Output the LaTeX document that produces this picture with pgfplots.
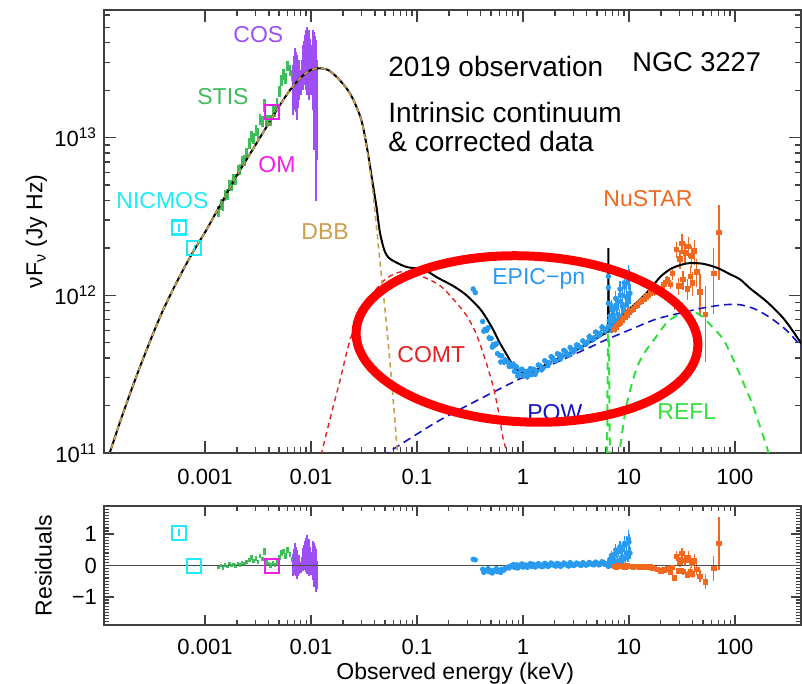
\documentclass[border=0pt]{standalone}
\usepackage{pgfplots}
\pgfplotsset{compat=1.18}
\usepackage{pgfplotstable}
\usepackage{fontspec}
\setmainfont{Liberation Sans}

\definecolor{stis}{RGB}{61,190,91}
\definecolor{cosc}{RGB}{157,78,245}
\definecolor{omc}{RGB}{240,30,230}
\definecolor{nicmos}{RGB}{30,235,245}
\definecolor{dbb}{RGB}{200,160,80}
\definecolor{epic}{RGB}{40,155,240}
\definecolor{nustar}{RGB}{240,105,30}
\definecolor{comt}{RGB}{225,35,35}
\definecolor{pow}{RGB}{20,20,200}
\definecolor{refl}{RGB}{50,225,60}
\definecolor{axisgray}{RGB}{64,64,64}

% E [keV], F = nu F_nu [Jy Hz], dF relative error, R residual, dR residual error
\pgfplotstableread{
E F dF R dR
1.349e-3 3.42e12 0.08 -0.05 0.06
1.413e-3 3.80e12 0.08 0.00 0.06
1.479e-3 3.70e12 0.08 -0.08 0.06
1.549e-3 4.34e12 0.08 0.02 0.06
1.622e-3 4.36e12 0.08 -0.03 0.06
1.698e-3 4.98e12 0.08 0.05 0.06
1.778e-3 5.01e12 0.08 0.00 0.06
1.862e-3 5.46e12 0.08 0.03 0.06
1.950e-3 5.48e12 0.08 -0.02 0.06
2.042e-3 6.19e12 0.08 0.05 0.06
2.138e-3 6.34e12 0.08 0.02 0.06
2.239e-3 7.05e12 0.08 0.08 0.06
2.344e-3 7.14e12 0.08 0.04 0.06
2.455e-3 7.94e12 0.08 0.10 0.06
2.630e-3 9.20e12 0.08 0.18 0.07
2.754e-3 1.026e13 0.08 0.25 0.07
2.884e-3 9.93e12 0.08 0.15 0.07
3.020e-3 1.107e13 0.08 0.22 0.07
3.162e-3 1.069e13 0.08 0.12 0.07
3.311e-3 1.306e13 0.08 0.30 0.07
3.467e-3 1.268e13 0.08 0.20 0.07
3.631e-3 1.611e13 0.10 0.45 0.10
3.802e-3 1.285e13 0.08 0.10 0.07
3.981e-3 1.291e13 0.08 0.05 0.07
4.169e-3 1.294e13 0.08 0.00 0.07
4.365e-3 1.469e13 0.08 0.08 0.07
4.571e-3 1.462e13 0.08 0.02 0.07
4.786e-3 1.656e13 0.08 0.10 0.07
5.012e-3 1.982e13 0.08 0.25 0.08
5.248e-3 2.323e13 0.08 0.40 0.09
5.495e-3 2.518e13 0.08 0.45 0.09
5.754e-3 2.366e13 0.08 0.30 0.09
6.026e-3 2.858e13 0.08 0.50 0.09
6.310e-3 2.692e13 0.08 0.35 0.09
6.607e-3 2.483e13 0.08 0.20 0.08
}\tabSTIS

\pgfplotstableread{
E F dF R dR
0.339 1.096e12 0.04 0.20 0.05
0.355 1.04e12 0.04 0.18 0.05
0.417 6.82e11 0.04 -0.12 0.04
0.427 5.92e11 0.04 -0.22 0.04
0.437 6.08e11 0.04 -0.18 0.04
0.457 6.01e11 0.04 -0.15 0.04
0.468 6.22e11 0.04 -0.10 0.04
0.479 5.37e11 0.04 -0.20 0.04
0.501 5.33e11 0.04 -0.16 0.04
0.513 4.69e11 0.04 -0.24 0.04
0.525 4.88e11 0.04 -0.19 0.04
0.550 4.86e11 0.04 -0.14 0.04
0.562 4.94e11 0.04 -0.10 0.04
0.575 4.27e11 0.04 -0.20 0.04
0.603 4.16e11 0.04 -0.17 0.04
0.617 3.78e11 0.04 -0.22 0.04
0.631 4.14e11 0.04 -0.12 0.04
0.661 3.77e11 0.04 -0.15 0.04
0.676 3.88e11 0.04 -0.10 0.04
0.692 3.84e11 0.04 -0.08 0.04
0.724 3.76e11 0.04 -0.05 0.04
0.741 3.54e11 0.04 -0.08 0.04
0.759 3.66e11 0.04 -0.02 0.04
0.794 3.55e11 0.04 0.00 0.04
0.813 3.66e11 0.04 0.03 0.04
0.832 3.29e11 0.04 -0.06 0.04
0.871 3.52e11 0.04 0.02 0.04
0.891 3.08e11 0.04 -0.08 0.04
0.912 3.18e11 0.04 -0.04 0.04
0.955 3.37e11 0.04 0.03 0.04
0.977 3.40e11 0.04 0.05 0.04
1.000 3.08e11 0.04 -0.05 0.04
1.047 3.30e11 0.04 0.02 0.04
1.072 3.17e11 0.04 -0.02 0.04
1.096 3.04e11 0.04 -0.06 0.04
1.148 3.33e11 0.04 0.03 0.04
1.175 3.43e11 0.04 0.06 0.04
1.202 3.14e11 0.04 -0.03 0.04
1.259 3.40e11 0.04 0.04 0.04
1.303 3.15e11 0.04 -0.05 0.04
1.349 3.30e11 0.04 -0.02 0.04
1.396 3.61e11 0.04 0.06 0.04
1.445 3.57e11 0.04 0.03 0.04
1.496 3.37e11 0.04 -0.04 0.04
1.549 3.45e11 0.04 -0.03 0.04
1.603 3.85e11 0.04 0.07 0.04
1.660 3.78e11 0.04 0.04 0.04
1.718 3.58e11 0.04 -0.03 0.04
1.778 3.73e11 0.04 0.00 0.04
1.841 4.08e11 0.04 0.08 0.04
1.905 4.02e11 0.04 0.05 0.04
1.972 3.87e11 0.04 0.00 0.04
2.042 3.84e11 0.04 -0.02 0.04
2.113 4.26e11 0.04 0.07 0.04
2.188 4.22e11 0.04 0.04 0.04
2.265 3.95e11 0.04 -0.03 0.04
2.344 4.12e11 0.04 0.01 0.04
2.427 4.48e11 0.04 0.08 0.04
2.512 4.40e11 0.04 0.05 0.04
2.600 4.26e11 0.04 0.01 0.04
2.692 4.16e11 0.04 -0.02 0.04
2.786 4.67e11 0.04 0.09 0.04
2.884 4.48e11 0.04 0.04 0.04
2.985 4.37e11 0.04 0.00 0.04
3.090 4.53e11 0.04 0.02 0.04
3.199 4.84e11 0.04 0.08 0.04
3.311 4.82e11 0.04 0.06 0.04
3.428 4.70e11 0.04 0.02 0.04
3.548 4.66e11 0.04 0.00 0.04
3.673 5.14e11 0.04 0.09 0.04
3.802 5.01e11 0.04 0.05 0.04
3.936 4.89e11 0.04 0.01 0.04
4.074 5.06e11 0.04 0.03 0.04
4.217 5.47e11 0.05 0.10 0.05
4.365 5.38e11 0.05 0.07 0.05
4.519 5.28e11 0.05 0.03 0.05
4.677 5.32e11 0.05 0.02 0.05
4.842 5.85e11 0.05 0.11 0.05
5.012 5.77e11 0.05 0.08 0.05
5.188 5.55e11 0.05 0.02 0.05
5.370 5.71e11 0.05 0.04 0.05
5.559 6.27e11 0.05 0.12 0.05
5.754 6.18e11 0.05 0.10 0.05
5.957 5.93e11 0.05 0.03 0.05
6.166 6.11e11 0.05 0.05 0.05
6.40 8.91e11 0.05 0.02 0.05
6.40 1.12e12 0.05 0.06 0.05
6.40 1.32e12 0.05 -0.03 0.05
6.457 6.40e11 0.08 0.05 0.08
6.531 6.92e11 0.08 0.12 0.09
6.607 7.40e11 0.08 0.20 0.10
6.761 6.31e11 0.08 0.00 0.08
6.839 8.51e11 0.10 0.32 0.13
6.918 8.07e11 0.10 0.25 0.12
7.079 6.78e11 0.10 0.10 0.11
7.161 7.24e11 0.10 0.20 0.12
7.244 8.17e11 0.10 0.35 0.13
7.413 6.41e11 0.10 0.05 0.11
7.499 9.55e11 0.12 0.50 0.18
7.586 8.63e11 0.12 0.40 0.16
7.762 6.97e11 0.12 0.12 0.13
7.852 7.59e11 0.12 0.15 0.14
7.943 9.14e11 0.12 0.45 0.17
8.128 7.36e11 0.12 0.15 0.14
8.222 1.096e12 0.12 0.60 0.19
8.318 1.005e12 0.12 0.55 0.18
8.511 7.23e11 0.12 0.10 0.13
8.610 8.51e11 0.12 0.28 0.15
8.710 1.00e12 0.12 0.50 0.18
8.913 8.11e11 0.12 0.20 0.14
9.016 1.20e12 0.14 0.70 0.24
9.120 1.13e12 0.14 0.65 0.22
9.333 8.69e11 0.14 0.25 0.17
9.441 9.77e11 0.14 0.40 0.20
9.550 1.20e12 0.14 0.70 0.23
9.772 9.29e11 0.14 0.30 0.18
9.886 1.35e12 0.15 0.85 0.28
10.00 1.27e12 0.15 0.75 0.25
10.23 1.03e12 0.15 0.40 0.20
}\tabEPIC

\pgfplotstableread{
E F dF R dR
7.244 6.10e11 0.02 -0.02 0.02
7.586 6.31e11 0.02 -0.04 0.02
7.943 6.53e11 0.02 -0.01 0.02
8.318 6.76e11 0.02 -0.03 0.02
8.710 7.00e11 0.02 -0.02 0.02
9.120 7.24e11 0.02 -0.04 0.02
9.550 7.50e11 0.02 -0.01 0.02
10.00 7.85e11 0.02 -0.03 0.02
10.47 8.04e11 0.025 -0.02 0.025
10.96 8.22e11 0.025 -0.05 0.025
11.48 8.51e11 0.025 -0.03 0.025
12.02 8.71e11 0.025 -0.02 0.025
12.59 9.02e11 0.03 -0.04 0.03
13.18 9.23e11 0.03 -0.03 0.03
13.80 9.44e11 0.03 -0.05 0.03
14.45 9.77e11 0.03 -0.04 0.03
15.14 1.00e12 0.03 -0.06 0.03
15.85 1.035e12 0.03 -0.05 0.03
16.60 1.047e12 0.04 -0.08 0.04
17.38 1.047e12 0.05 -0.09 0.05
18.62 1.06e12 0.05 -0.12 0.05
19.95 1.096e12 0.05 -0.17 0.05
21.38 1.175e12 0.06 -0.14 0.06
22.91 1.259e12 0.06 -0.11 0.06
24.55 1.175e12 0.07 -0.20 0.06
25.70 1.38e12 0.10 -0.07 0.09
26.92 8.91e11 0.10 -0.40 0.06
28.18 1.95e12 0.12 0.29 0.16
29.51 1.15e12 0.12 -0.17 0.10
30.20 1.70e12 0.14 0.12 0.16
31.62 2.14e12 0.14 0.38 0.19
32.36 1.26e12 0.14 -0.19 0.11
33.88 1.86e12 0.15 0.17 0.18
35.48 1.10e12 0.15 -0.30 0.11
36.31 2.04e12 0.15 0.26 0.19
38.02 1.32e12 0.16 -0.18 0.13
38.90 1.78e12 0.16 0.08 0.17
39.81 1.20e12 0.18 -0.27 0.13
41.69 1.91e12 0.18 0.15 0.21
43.65 1.41e12 0.20 -0.13 0.17
46.77 1.05e12 0.30 -0.34 0.20
52.48 7.59e11 0.50 -0.52 0.24
63.10 1.38e12 0.45 -0.10 0.40
70.79 2.51e12 0.50 0.70 0.85
}\tabNuSTAR

\begin{document}
\begin{tikzpicture}

% ---------------- SED panel ----------------
\begin{axis}[
  scale only axis, width=348.5pt, height=221.5pt,
  at={(52pt,115.5pt)}, anchor=south west,
  xmode=log, ymode=log,
  xmin=1.114e-4, xmax=420, ymin=1e11, ymax=6.46e13,
  xtick={1e-3,1e-2,1e-1,1,10,100},
  xticklabels={0.001,0.01,0.1,1,10,100},
  minor xtick={},
  ytick={1e11,1e12,1e13},
  yticklabels={10\textsuperscript{11},10\textsuperscript{12},10\textsuperscript{13}},
  yminorticks=true,
  minor ytick={2e11,3e11,4e11,5e11,6e11,7e11,8e11,9e11,2e12,3e12,4e12,5e12,6e12,7e12,8e12,9e12,2e13,3e13,4e13,5e13,6e13},
  tick align=inside,
  major tick length=6pt, minor tick length=3pt,
  axis line style={axisgray, line width=0.8pt},
  tick style={axisgray, line width=0.8pt},
  minor tick style={axisgray, line width=0.7pt},
  tick label style={font=\fontsize{11}{13}\selectfont},
  xticklabel shift=4.5pt,
  ylabel={νF\textsubscript{ν} (Jy Hz)},
  ylabel style={font=\fontsize{11.5}{13}\selectfont, at={(axis description cs:-0.097,0.5)}, anchor=center},
  unbounded coords=jump,
]
% STIS spectrum
\addplot[stis, only marks, mark=*, mark size=0.35pt,
  error bars/.cd, y dir=both, y explicit relative, error mark=none,
  error bar style={line width=1.3pt, stis}]
  table[x=E, y=F, y error=dF] {\tabSTIS};
% COS spectrum (flux range of each bin)
\addplot[cosc, line width=1pt] coordinates {
(6.76e-3,1.40e13)(6.76e-3,2.90e13)(6.76e-3,nan)
(6.91e-3,1.60e13)(6.91e-3,3.30e13)(6.91e-3,nan)
(7.06e-3,1.50e13)(7.06e-3,3.72e13)(7.06e-3,nan)
(7.22e-3,1.45e13)(7.22e-3,3.50e13)(7.22e-3,nan)
(7.38e-3,1.30e13)(7.38e-3,3.35e13)(7.38e-3,nan)
(7.54e-3,1.55e13)(7.54e-3,2.90e13)(7.54e-3,nan)
(7.71e-3,1.74e13)(7.71e-3,3.12e13)(7.71e-3,nan)
(8.05e-3,1.87e13)(8.05e-3,2.69e13)(8.05e-3,nan)
(8.23e-3,2.10e13)(8.23e-3,3.10e13)(8.23e-3,nan)
(8.41e-3,2.01e13)(8.41e-3,3.88e13)(8.41e-3,nan)
(8.59e-3,2.30e13)(8.59e-3,4.10e13)(8.59e-3,nan)
(8.78e-3,2.16e13)(8.78e-3,4.49e13)(8.78e-3,nan)
(8.97e-3,2.00e13)(8.97e-3,4.80e13)(8.97e-3,nan)
(9.17e-3,1.87e13)(9.17e-3,5.05e13)(9.17e-3,nan)
(9.37e-3,1.90e13)(9.37e-3,4.60e13)(9.37e-3,nan)
(9.58e-3,1.74e13)(9.58e-3,4.83e13)(9.58e-3,nan)
(9.79e-3,1.90e13)(9.79e-3,4.20e13)(9.79e-3,nan)
(1.000e-2,1.87e13)(1.000e-2,3.61e13)(1.000e-2,nan)
(1.022e-2,1.90e13)(1.022e-2,3.90e13)(1.022e-2,nan)
(1.044e-2,1.50e13)(1.044e-2,4.83e13)(1.044e-2,nan)
(1.067e-2,8.40e12)(1.067e-2,4.69e13)(1.067e-2,nan)
(1.090e-2,9.00e12)(1.090e-2,4.40e13)(1.090e-2,nan)
(1.115e-2,3.94e12)(1.115e-2,4.17e13)(1.115e-2,nan)
(1.140e-2,7.26e12)(1.140e-2,3.12e13)
};
% EPIC-pn
\addplot[epic, only marks, mark=*, mark size=1.15pt,
  error bars/.cd, y dir=both, y explicit relative, error mark=none,
  error bar style={epic, line width=0.6pt}]
  table[x=E, y=F, y error=dF] {\tabEPIC};
% NuSTAR
\addplot[nustar, only marks, mark=square*, mark size=1.1pt,
  error bars/.cd, y dir=both, y explicit relative, error mark=none,
  error bar style={nustar, line width=0.7pt}]
  table[x=E, y=F, y error=dF] {\tabNuSTAR};

% model components
\addplot[pow, line width=0.8pt, dash pattern=on 4pt off 2.5pt, smooth] coordinates {
(4.677e-2,9.44e10)(5.248e-2,1.000e11)(0.1,1.318e11)(0.1660,1.622e11)(0.3162,2.042e11)
(0.7079,2.692e11)(1.0,3.020e11)(1.995,3.715e11)(4.266,4.677e11)(6.166,5.248e11)
(10.96,6.166e11)(18.20,7.079e11)(31.62,7.762e11)(50.12,8.318e11)(79.43,8.710e11)
(112.2,8.710e11)(158.5,8.128e11)(223.9,7.079e11)(316.2,5.888e11)(426.6,4.677e11)};
\addplot[comt, line width=0.7pt, dash pattern=on 2.6pt off 2pt, smooth] coordinates {
(1.202e-2,8.511e10)(1.259e-2,1.0e11)(1.585e-2,1.862e11)(1.862e-2,2.818e11)(2.344e-2,5.248e11)
(3.020e-2,7.943e11)(3.802e-2,1.023e12)(5.012e-2,1.259e12)(6.310e-2,1.380e12)(7.943e-2,1.413e12)
(0.1122,1.318e12)(0.1660,1.148e12)(0.2239,9.333e11)(0.2951,7.413e11)(0.3548,5.888e11)
(0.3890,5.012e11)(0.4467,3.802e11)(0.5248,2.630e11)(0.5888,1.820e11)(0.6457,1.259e11)
(0.7079,1.0e11)(0.7413,8.511e10)};
\addplot[refl, line width=1pt, dash pattern=on 4pt off 3pt] coordinates {
(6.20,8.0e10)(6.397,1.585e12)(6.62,8.0e10)};
\addplot[refl, line width=1pt, dash pattern=on 4pt off 3pt, smooth] coordinates {
(7.943,8.913e10)(8.511,1.259e11)(9.333,1.905e11)(10.47,2.630e11)(12.02,3.548e11)
(14.13,4.365e11)(18.20,5.495e11)(22.91,6.761e11)(28.18,7.413e11)(35.48,7.943e11)
(42.66,7.762e11)(50.12,7.244e11)(63.10,6.166e11)(77.62,5.248e11)(95.50,3.981e11)
(117.5,2.884e11)(147.9,1.995e11)(177.8,1.380e11)(199.5,1.096e11)(213.8,9.120e10)};
% total intrinsic continuum
\addplot[black, line width=1pt, smooth] coordinates {
(1.122e-4,8.32e10)(1.259e-4,1.00e11)(1.585e-4,1.585e11)(1.995e-4,2.455e11)(2.512e-4,3.715e11)
(3.162e-4,5.495e11)(3.981e-4,7.943e11)(5.012e-4,1.096e12)(6.310e-4,1.479e12)(7.943e-4,1.950e12)
(1.0e-3,2.512e12)(1.259e-3,3.311e12)(1.585e-3,4.365e12)(1.995e-3,5.754e12)(2.512e-3,7.413e12)
(3.162e-3,9.550e12)(3.981e-3,1.230e13)(5.012e-3,1.585e13)(6.310e-3,1.995e13)(7.943e-3,2.399e13)
(1.0e-2,2.692e13)(1.202e-2,2.754e13)(1.445e-2,2.692e13)(1.778e-2,2.399e13)(2.239e-2,1.995e13)
(2.630e-2,1.622e13)(3.020e-2,1.259e13)(3.388e-2,8.511e12)(3.802e-2,5.248e12)(4.169e-2,3.548e12)
(4.467e-2,2.512e12)(4.898e-2,1.950e12)(5.370e-2,1.738e12)(6.310e-2,1.622e12)(7.943e-2,1.514e12)
(0.1,1.479e12)(0.1259,1.413e12)(0.1585,1.288e12)(0.2188,1.148e12)(0.2818,1.023e12)
(0.3388,9.120e11)(0.3981,8.128e11)(0.4571,7.079e11)(0.5248,6.026e11)(0.6026,5.012e11)
(0.7079,4.169e11)(0.8128,3.548e11)(0.9120,3.311e11)(1.0,3.236e11)(1.202,3.236e11)
(1.445,3.467e11)(1.995,3.890e11)(2.951,4.365e11)(4.467,5.129e11)(6.310,5.888e11)};
\addplot[black, line width=1pt] coordinates {
(6.310,5.888e11)(6.368,5.916e11)(6.397,1.995e12)(6.427,6.026e11)(6.761,6.310e11)
(7.047,6.607e11)(7.112,6.026e11)(7.943,6.761e11)};
\addplot[black, line width=1pt, smooth] coordinates {
(7.943,6.761e11)(10.0,8.128e11)(12.59,9.333e11)(15.85,1.096e12)(19.95,1.318e12)
(25.12,1.479e12)(31.62,1.567e12)(38.02,1.603e12)(50.12,1.585e12)(67.61,1.496e12)
(89.13,1.365e12)(112.2,1.259e12)(141.3,1.096e12)(199.5,9.120e11)(281.8,7.244e11)
(354.8,5.888e11)(426.6,4.898e11)};
% disc blackbody
\addplot[dbb, line width=0.8pt, dash pattern=on 2.6pt off 2pt, smooth] coordinates {
(1.122e-4,8.32e10)(1.259e-4,1.00e11)(1.585e-4,1.585e11)(1.995e-4,2.455e11)(2.512e-4,3.715e11)
(3.162e-4,5.495e11)(3.981e-4,7.943e11)(5.012e-4,1.096e12)(6.310e-4,1.479e12)(7.943e-4,1.950e12)
(1.0e-3,2.512e12)(1.259e-3,3.311e12)(1.585e-3,4.365e12)(1.995e-3,5.754e12)(2.512e-3,7.413e12)
(3.162e-3,9.550e12)(3.981e-3,1.230e13)(5.012e-3,1.585e13)(6.310e-3,1.995e13)(7.943e-3,2.399e13)
(1.0e-2,2.692e13)(1.202e-2,2.754e13)(1.445e-2,2.692e13)(1.778e-2,2.399e13)(2.239e-2,1.995e13)
(2.630e-2,1.622e13)(3.020e-2,1.259e13)(3.388e-2,8.318e12)(3.802e-2,4.786e12)(4.169e-2,2.630e12)
(4.467e-2,1.660e12)(4.786e-2,1.072e12)(5.248e-2,5.754e11)(5.754e-2,2.884e11)(6.166e-2,1.660e11)
(6.457e-2,1.096e11)(6.607e-2,8.913e10)};
% photometry
\addplot[nicmos, only marks, mark=square, mark size=3.5pt, mark options={line width=1.1pt},
  error bars/.cd, y dir=both, y explicit relative, error mark=none,
  error bar style={nicmos, line width=0.7pt}]
  coordinates {(5.69e-4,2.69e12) +- (0,0.06) (7.94e-4,1.995e12) +- (0,0.04)};
\addplot[omc, only marks, mark=square, mark size=3.5pt, mark options={line width=1.1pt}]
  coordinates {(4.28e-3,1.46e13)};
\end{axis}

% ---------------- residual panel ----------------
\begin{axis}[
  scale only axis, width=348.5pt, height=59.5pt,
  at={(52pt,29.5pt)}, anchor=south west,
  xmode=log, xmin=1.114e-4, xmax=420,
  ymin=-1.9, ymax=1.9,
  xtick={1e-3,1e-2,1e-1,1,10,100},
  xticklabels={0.001,0.01,0.1,1,10,100},
  minor xtick={},
  ytick={-1,0,1}, yticklabels={−1,0,1},
  yminorticks=true,
  minor ytick={-1.9,-1.8,...,1.9},
  tick align=inside,
  major tick length=5pt, minor tick length=2.5pt,
  axis line style={axisgray, line width=0.8pt},
  tick style={axisgray, line width=0.8pt},
  minor tick style={axisgray, line width=0.6pt},
  tick label style={font=\fontsize{11}{13}\selectfont},
  xticklabel shift=3.5pt,
  ylabel={Residuals},
  ylabel style={font=\fontsize{11.5}{13}\selectfont, at={(axis description cs:-0.087,0.5)}, anchor=center},
  xlabel={Observed energy (keV)},
  xlabel style={font=\fontsize{11.5}{13}\selectfont, at={(axis description cs:0.504,-0.405)}, anchor=center},
  unbounded coords=jump,
]
\addplot[stis, only marks, mark=*, mark size=0.35pt,
  error bars/.cd, y dir=both, y explicit, error mark=none,
  error bar style={line width=1.3pt, stis}]
  table[x=E, y=R, y error=dR] {\tabSTIS};
\addplot[cosc, line width=1pt] coordinates {
(6.76e-3,-0.34)(6.76e-3,0.37)(6.76e-3,nan)
(6.91e-3,-0.26)(6.91e-3,0.53)(6.91e-3,nan)
(7.06e-3,-0.31)(7.06e-3,0.71)(7.06e-3,nan)
(7.22e-3,-0.35)(7.22e-3,0.58)(7.22e-3,nan)
(7.38e-3,-0.42)(7.38e-3,0.48)(7.38e-3,nan)
(7.54e-3,-0.33)(7.54e-3,0.26)(7.54e-3,nan)
(7.71e-3,-0.26)(7.71e-3,0.33)(7.71e-3,nan)
(8.05e-3,-0.23)(8.05e-3,0.11)(8.05e-3,nan)
(8.23e-3,-0.14)(8.23e-3,0.27)(8.23e-3,nan)
(8.41e-3,-0.19)(8.41e-3,0.57)(8.41e-3,nan)
(8.59e-3,-0.08)(8.59e-3,0.65)(8.59e-3,nan)
(8.78e-3,-0.14)(8.78e-3,0.79)(8.78e-3,nan)
(8.97e-3,-0.22)(8.97e-3,0.88)(8.97e-3,nan)
(9.17e-3,-0.27)(9.17e-3,0.96)(9.17e-3,nan)
(9.37e-3,-0.27)(9.37e-3,0.76)(9.37e-3,nan)
(9.58e-3,-0.34)(9.58e-3,0.84)(9.58e-3,nan)
(9.79e-3,-0.29)(9.79e-3,0.58)(9.79e-3,nan)
(1.000e-2,-0.30)(1.000e-2,0.34)(1.000e-2,nan)
(1.022e-2,-0.30)(1.022e-2,0.44)(1.022e-2,nan)
(1.044e-2,-0.45)(1.044e-2,0.78)(1.044e-2,nan)
(1.067e-2,-0.69)(1.067e-2,0.72)(1.067e-2,nan)
(1.090e-2,-0.67)(1.090e-2,0.61)(1.090e-2,nan)
(1.115e-2,-0.86)(1.115e-2,0.52)(1.115e-2,nan)
(1.140e-2,-0.74)(1.140e-2,0.13)
};
\addplot[epic, only marks, mark=*, mark size=1.15pt,
  error bars/.cd, y dir=both, y explicit, error mark=none,
  error bar style={epic, line width=0.6pt}]
  table[x=E, y=R, y error=dR] {\tabEPIC};
\addplot[nustar, only marks, mark=square*, mark size=1.1pt,
  error bars/.cd, y dir=both, y explicit, error mark=none,
  error bar style={nustar, line width=0.7pt}]
  table[x=E, y=R, y error=dR] {\tabNuSTAR};
\addplot[nicmos, only marks, mark=square, mark size=3.5pt, mark options={line width=1.1pt},
  error bars/.cd, y dir=both, y explicit, error mark=none,
  error bar style={nicmos, line width=0.7pt}]
  coordinates {(5.69e-4,1.05) +- (0,0.12) (7.94e-4,-0.02) +- (0,0.04)};
\addplot[omc, only marks, mark=square, mark size=3.5pt, mark options={line width=1.1pt}]
  coordinates {(4.28e-3,-0.02)};
\addplot[black!70, line width=0.6pt] coordinates {(1.114e-4,0) (420,0)};
\end{axis}

% ---------------- annotations ----------------
\begin{scope}[every node/.style={inner sep=0pt, anchor=base west}]
\node[text=cosc, font=\fontsize{11.5}{13}\selectfont] at (116.5pt,320.5pt) {COS};
\node[text=stis, font=\fontsize{11.5}{13}\selectfont] at (98.5pt,289.5pt) {STIS};
\node[text=omc, font=\fontsize{11.5}{13}\selectfont] at (129pt,255.5pt) {OM};
\node[text=nicmos, font=\fontsize{11.5}{13}\selectfont] at (58pt,237.5pt) {NICMOS};
\node[text=dbb, font=\fontsize{11.5}{13}\selectfont] at (150.5pt,222pt) {DBB};
\node[font=\fontsize{14}{16}\selectfont] at (194pt,303.5pt) {2019 observation};
\node[font=\fontsize{13.6}{16}\selectfont] at (316pt,306pt) {NGC 3227};
\node[font=\fontsize{14}{16}\selectfont] at (194pt,280.5pt) {Intrinsic continuum};
\node[font=\fontsize{14}{16}\selectfont] at (194pt,266pt) {\& corrected data};
\node[text=nustar, font=\fontsize{11.5}{13}\selectfont] at (301.5pt,238.5pt) {NuSTAR};
\node[text=epic, font=\fontsize{11.5}{13}\selectfont] at (246pt,199.5pt) {EPIC−pn};
\node[text=comt, font=\fontsize{11.5}{13}\selectfont] at (198.5pt,160.5pt) {COMT};
\node[text=pow, font=\fontsize{11.5}{13}\selectfont] at (263.5pt,131.5pt) {POW};
\node[text=refl, font=\fontsize{11.5}{13}\selectfont] at (328.5pt,132pt) {REFL};
\end{scope}

% highlight of the soft-excess / continuum region
\draw[red, line width=4.5pt, rotate around={-2.5:(263.5pt,172.5pt)}]
  (263.5pt,172.5pt) ellipse [x radius=85.5pt, y radius=41.5pt];

\pgfresetboundingbox
\path[use as bounding box] (0,0) rectangle (401pt,342pt);
\end{tikzpicture}
\end{document}
